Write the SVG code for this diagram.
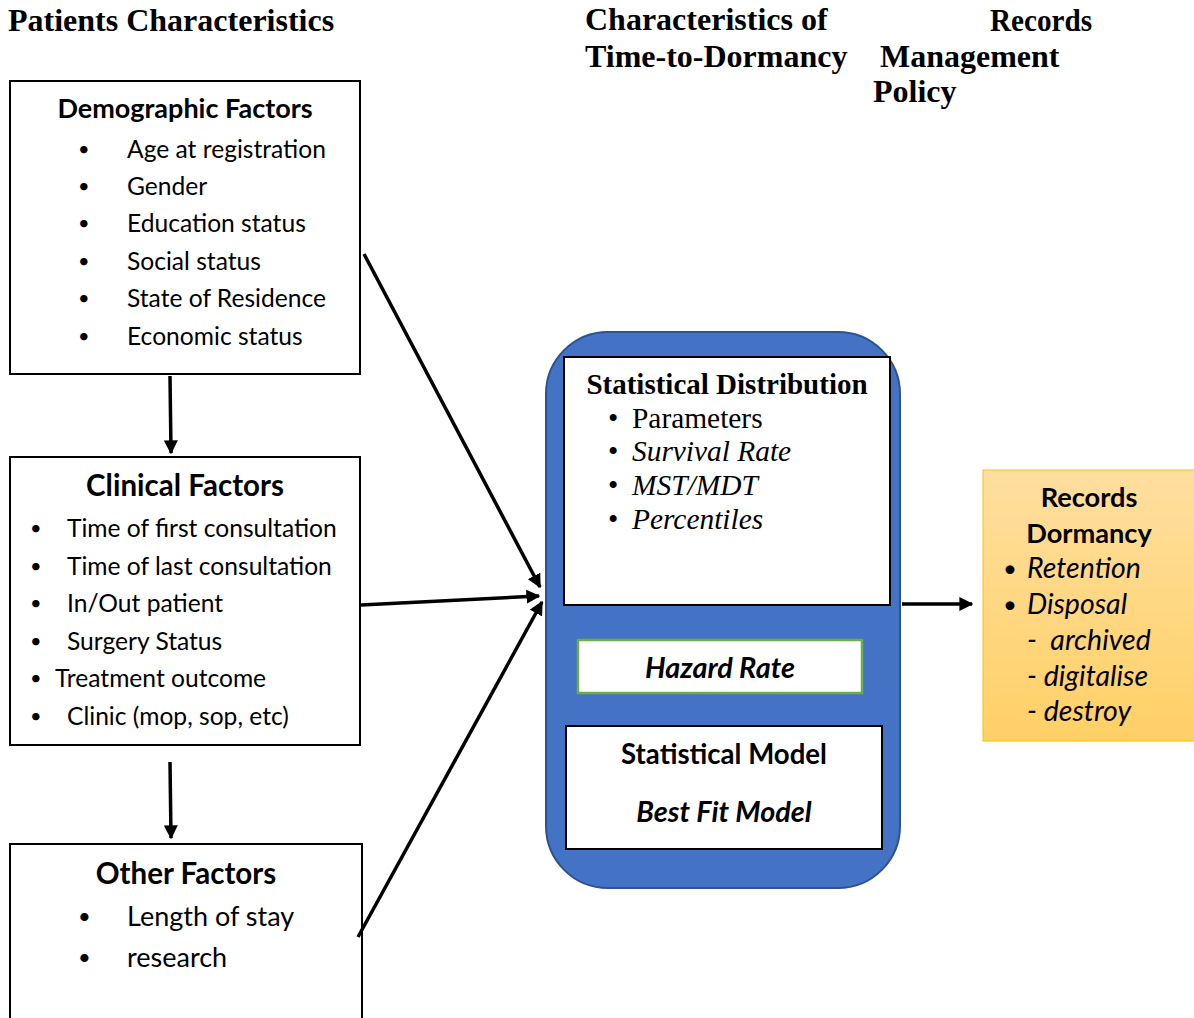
<svg xmlns="http://www.w3.org/2000/svg" width="1194" height="1018" viewBox="0 0 1194 1018">
<defs>
<marker id="ah" viewBox="0 0 10 10" refX="9" refY="5" markerWidth="4" markerHeight="4" markerUnits="strokeWidth" orient="auto">
<path d="M0,0 L10,5 L0,10 Z" fill="#000"/>
</marker>
<linearGradient id="og" x1="0" y1="0" x2="0" y2="1">
<stop offset="0" stop-color="#FFDFA0"/>
<stop offset="1" stop-color="#FFD066"/>
</linearGradient>
<style>
.hd{font-family:"Liberation Serif","Times New Roman",serif;font-weight:bold;font-size:32px;fill:#000}
.box{fill:#fff;stroke:#000;stroke-width:2}
.t{font-family:Lato,"Liberation Sans",sans-serif;font-size:24.6px;fill:#000}
.bl{font-family:Lato,"Liberation Sans",sans-serif;font-size:20px;fill:#000}
.tb{font-family:Lato,"Liberation Sans",sans-serif;font-size:29.5px;font-weight:bold;fill:#000}
.tbi{font-family:Lato,"Liberation Sans",sans-serif;font-size:28.8px;font-weight:bold;font-style:italic;fill:#000}
.ti{font-family:Lato,"Liberation Sans",sans-serif;font-size:28.5px;font-style:italic;fill:#000}
.sr{font-family:"Liberation Serif","Times New Roman",serif;font-size:29.4px;fill:#000}
.conn{stroke:#000;stroke-width:3.5;fill:none;marker-end:url(#ah)}
</style>
</defs>
<rect width="1194" height="1018" fill="#fff"/>
<g id="headers">
<text class="hd" x="8" y="31">Patients Characteristics</text>
<text class="hd" x="585" y="30">Characteristics of</text>
<text class="hd" x="585" y="67">Time-to-Dormancy</text>
<text class="hd" x="990" y="31" textLength="102" lengthAdjust="spacingAndGlyphs">Records</text>
<text class="hd" x="880" y="67">Management</text>
<text class="hd" x="873" y="102">Policy</text>
</g>
<g id="demographic">
<rect class="box" x="10" y="81" width="350" height="293"/>
<text class="tb" x="185" y="118" text-anchor="middle" style="font-size:27px">Demographic Factors</text>
<g class="bl">
<text x="78" y="156">•</text><text x="78" y="193">•</text><text x="78" y="230">•</text>
<text x="78" y="268">•</text><text x="78" y="305">•</text><text x="78" y="343">•</text>
</g>
<g class="t">
<text x="127" y="158">Age at registration</text>
<text x="127" y="195">Gender</text>
<text x="127" y="232">Education status</text>
<text x="127" y="270">Social status</text>
<text x="127" y="307">State of Residence</text>
<text x="127" y="345">Economic status</text>
</g>
</g>
<g id="clinical">
<rect class="box" x="10" y="457" width="350" height="288"/>
<text class="tb" x="185" y="496" text-anchor="middle">Clinical Factors</text>
<g class="bl">
<text x="30" y="535">•</text><text x="30" y="573">•</text><text x="30" y="610">•</text>
<text x="30" y="648">•</text><text x="30" y="685">•</text><text x="30" y="723">•</text>
</g>
<g class="t">
<text x="67" y="537">Time of first consultation</text>
<text x="67" y="575">Time of last consultation</text>
<text x="67" y="612">In/Out patient</text>
<text x="67" y="650">Surgery Status</text>
<text x="55" y="687">Treatment outcome</text>
<text x="67" y="725">Clinic (mop, sop, etc)</text>
</g>
</g>
<g id="other">
<rect class="box" x="10" y="844" width="352" height="190"/>
<text class="tb" x="186" y="884" text-anchor="middle">Other Factors</text>
<g class="bl" style="font-size:22px">
<text x="78" y="924">•</text><text x="78" y="965">•</text>
</g>
<g class="t" style="font-size:27px">
<text x="127" y="926">Length of stay</text>
<text x="127" y="967">research</text>
</g>
</g>
<g id="container">
<rect x="546" y="332" width="354" height="556" rx="62" ry="62" fill="#4472C4" stroke="#2F528F" stroke-width="2"/>
</g>
<g id="distribution">
<rect class="box" x="564" y="357" width="326" height="248"/>
<text class="hd" x="727" y="394" text-anchor="middle" style="font-size:29px">Statistical Distribution</text>
<text class="sr" x="608" y="428">•</text><text class="sr" x="632" y="428">Parameters</text>
<text class="sr" x="608" y="461">•</text><text class="sr" x="632" y="461" font-style="italic">Survival Rate</text>
<text class="sr" x="608" y="495">•</text><text class="sr" x="632" y="495" font-style="italic">MST/MDT</text>
<text class="sr" x="608" y="529">•</text><text class="sr" x="632" y="529" font-style="italic">Percentiles</text>
</g>
<g id="hazard">
<rect x="578" y="640" width="284" height="53" fill="#fff" stroke="#70AD47" stroke-width="2.5"/>
<text class="tbi" x="720" y="678" text-anchor="middle">Hazard Rate</text>
</g>
<g id="model">
<rect class="box" x="566" y="726" width="316" height="123"/>
<text class="tb" x="724" y="764" text-anchor="middle" style="font-size:27.6px">Statistical Model</text>
<text class="tbi" x="724" y="822" text-anchor="middle">Best Fit Model</text>
</g>
<g id="dormancy">
<rect x="983" y="470" width="212" height="271" fill="url(#og)" stroke="#FFC000" stroke-width="1"/>
<text class="tb" x="1089" y="507" text-anchor="middle" style="font-size:27.2px">Records</text>
<text class="tb" x="1089" y="543" text-anchor="middle" style="font-size:27.2px">Dormancy</text>
<text class="bl" x="1003" y="577" style="font-size:24px">•</text><text class="ti" x="1027" y="578">Retention</text>
<text class="bl" x="1003" y="613" style="font-size:24px">•</text><text class="ti" x="1027" y="614">Disposal</text>
<text class="ti" x="1027" y="650" xml:space="preserve">-  archived</text>
<text class="ti" x="1027" y="686">- digitalise</text>
<text class="ti" x="1027" y="721">- destroy</text>
</g>
<g id="connectors">
<line class="conn" x1="170" y1="376" x2="171" y2="453"/>
<line class="conn" x1="170" y1="762" x2="171" y2="838"/>
<line class="conn" x1="364" y1="254" x2="540" y2="587"/>
<line class="conn" x1="361" y1="605" x2="539" y2="596"/>
<line class="conn" x1="358" y1="937" x2="542" y2="602"/>
<line class="conn" x1="902" y1="604" x2="972" y2="604"/>
</g>
</svg>
